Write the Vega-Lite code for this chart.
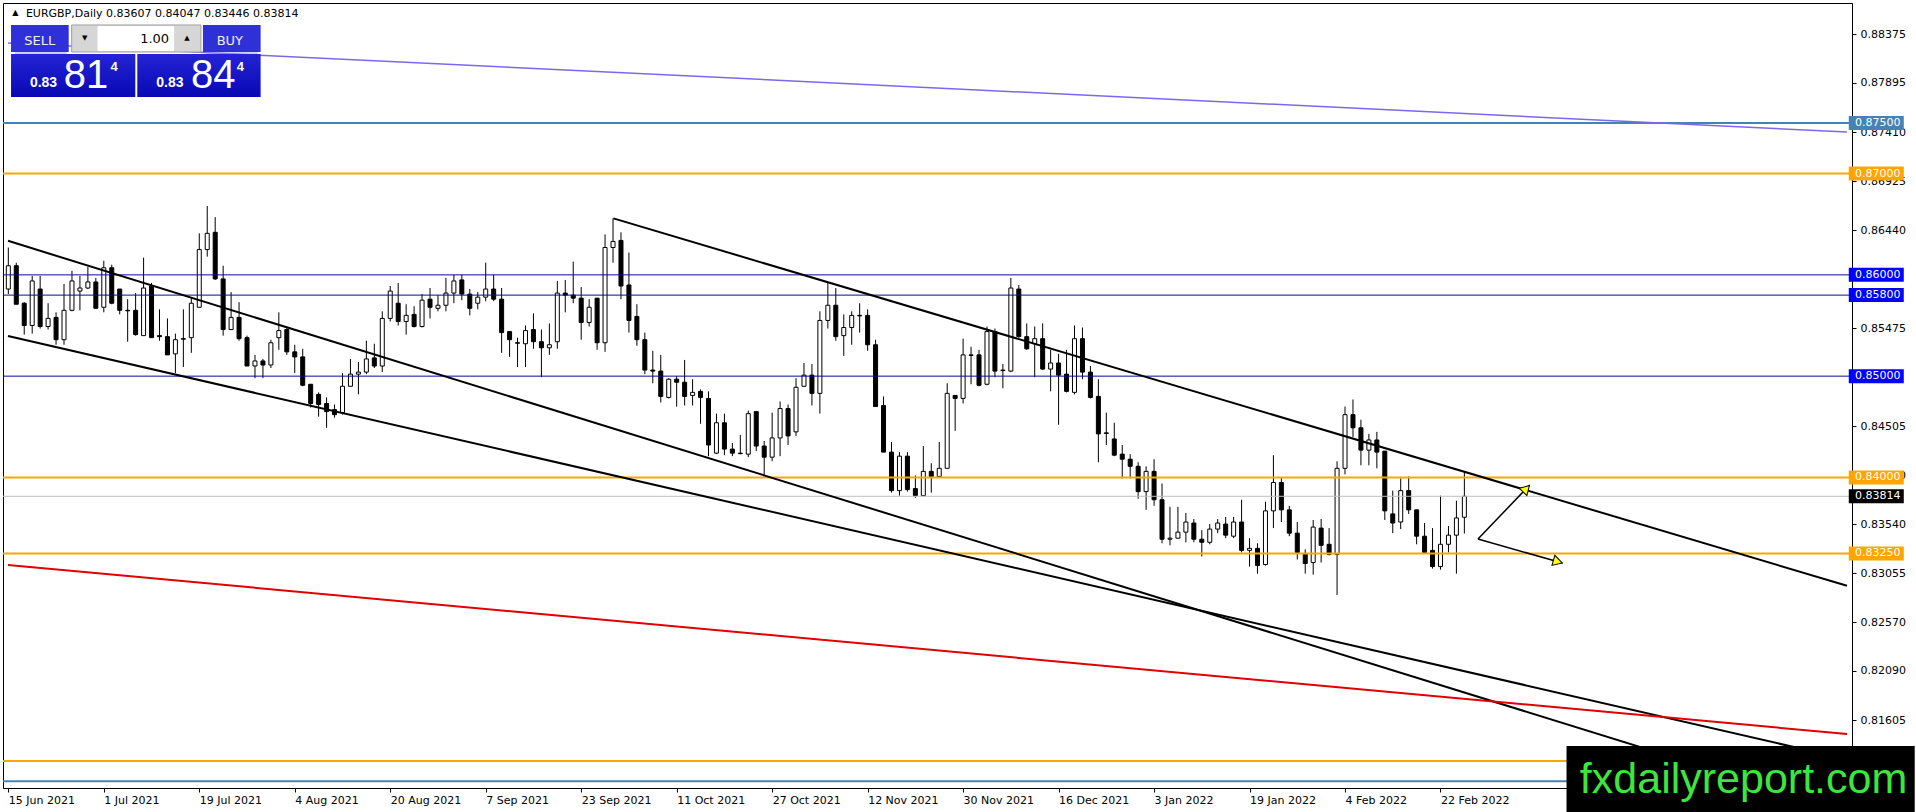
{
  "$schema": "https://vega.github.io/schema/vega-lite/v6.json",
  "width": 1849,
  "height": 785,
  "autosize": {"type": "none"},
  "padding": {"left": 3, "top": 3, "right": 64, "bottom": 24},
  "background": "white",
  "datasets": {
    "bars": [
      {"i":0,"o":0.8586,"h":0.8627,"l":0.8581,"c":0.8609},
      {"i":1,"o":0.8609,"h":0.8612,"l":0.8571,"c":0.8571},
      {"i":2,"o":0.8572,"h":0.8573,"l":0.8541,"c":0.855},
      {"i":3,"o":0.855,"h":0.8599,"l":0.8542,"c":0.8594},
      {"i":4,"o":0.8586,"h":0.8599,"l":0.8547,"c":0.8549},
      {"i":5,"o":0.8549,"h":0.8572,"l":0.8546,"c":0.8557},
      {"i":6,"o":0.8558,"h":0.8563,"l":0.8531,"c":0.8536},
      {"i":7,"o":0.8536,"h":0.8591,"l":0.8531,"c":0.8565},
      {"i":8,"o":0.8565,"h":0.8604,"l":0.8564,"c":0.8594},
      {"i":9,"o":0.8584,"h":0.8599,"l":0.8565,"c":0.8587},
      {"i":10,"o":0.8587,"h":0.8608,"l":0.8586,"c":0.8593},
      {"i":11,"o":0.8593,"h":0.8597,"l":0.8567,"c":0.8567},
      {"i":12,"o":0.8568,"h":0.8614,"l":0.8563,"c":0.8607},
      {"i":13,"o":0.8607,"h":0.861,"l":0.8571,"c":0.8572},
      {"i":14,"o":0.8586,"h":0.8586,"l":0.8561,"c":0.8565},
      {"i":15,"o":0.8565,"h":0.8576,"l":0.8534,"c":0.85645},
      {"i":16,"o":0.8565,"h":0.8582,"l":0.854,"c":0.8541},
      {"i":17,"o":0.854,"h":0.8617,"l":0.854,"c":0.8587},
      {"i":18,"o":0.8589,"h":0.8592,"l":0.8538,"c":0.8538},
      {"i":19,"o":0.854,"h":0.8566,"l":0.8535,"c":0.8539},
      {"i":20,"o":0.8539,"h":0.8557,"l":0.8521,"c":0.8521},
      {"i":21,"o":0.8522,"h":0.8542,"l":0.8503,"c":0.8536},
      {"i":22,"o":0.8537,"h":0.8566,"l":0.8509,"c":0.85365},
      {"i":23,"o":0.8538,"h":0.8577,"l":0.8523,"c":0.8572},
      {"i":24,"o":0.8568,"h":0.8641,"l":0.8568,"c":0.8625},
      {"i":25,"o":0.8625,"h":0.8668,"l":0.8618,"c":0.8641},
      {"i":26,"o":0.8642,"h":0.8657,"l":0.8595,"c":0.8596},
      {"i":27,"o":0.8596,"h":0.8609,"l":0.854,"c":0.8546},
      {"i":28,"o":0.8546,"h":0.8583,"l":0.8546,"c":0.8558},
      {"i":29,"o":0.8558,"h":0.8573,"l":0.8535,"c":0.8537},
      {"i":30,"o":0.8538,"h":0.854,"l":0.851,"c":0.851},
      {"i":31,"o":0.851,"h":0.8521,"l":0.8498,"c":0.8515},
      {"i":32,"o":0.8515,"h":0.8517,"l":0.8498,"c":0.8511},
      {"i":33,"o":0.8511,"h":0.8536,"l":0.8508,"c":0.8533},
      {"i":34,"o":0.8538,"h":0.8563,"l":0.8526,"c":0.8545},
      {"i":35,"o":0.8546,"h":0.8548,"l":0.8521,"c":0.8524},
      {"i":36,"o":0.8524,"h":0.8531,"l":0.8503,"c":0.8519},
      {"i":37,"o":0.8519,"h":0.8527,"l":0.849,"c":0.8491},
      {"i":38,"o":0.8492,"h":0.8492,"l":0.8469,"c":0.8473},
      {"i":39,"o":0.8482,"h":0.8484,"l":0.846,"c":0.8472},
      {"i":40,"o":0.8473,"h":0.8479,"l":0.8449,"c":0.8465},
      {"i":41,"o":0.8467,"h":0.8472,"l":0.8459,"c":0.8462},
      {"i":42,"o":0.8464,"h":0.8503,"l":0.8462,"c":0.849},
      {"i":43,"o":0.849,"h":0.8517,"l":0.849,"c":0.8502},
      {"i":44,"o":0.8502,"h":0.8514,"l":0.8482,"c":0.8504},
      {"i":45,"o":0.8504,"h":0.8535,"l":0.8502,"c":0.8517},
      {"i":46,"o":0.8518,"h":0.8532,"l":0.8508,"c":0.851},
      {"i":47,"o":0.851,"h":0.8564,"l":0.8504,"c":0.8557},
      {"i":48,"o":0.8557,"h":0.8589,"l":0.8554,"c":0.8584},
      {"i":49,"o":0.8572,"h":0.8592,"l":0.855,"c":0.8554},
      {"i":50,"o":0.8554,"h":0.8571,"l":0.8541,"c":0.856},
      {"i":51,"o":0.8561,"h":0.8569,"l":0.8548,"c":0.8549},
      {"i":52,"o":0.8549,"h":0.8581,"l":0.8548,"c":0.8575},
      {"i":53,"o":0.8576,"h":0.8587,"l":0.8557,"c":0.8568},
      {"i":54,"o":0.8567,"h":0.858,"l":0.8564,"c":0.857},
      {"i":55,"o":0.857,"h":0.8597,"l":0.8564,"c":0.8582},
      {"i":56,"o":0.8582,"h":0.86,"l":0.8572,"c":0.8594},
      {"i":57,"o":0.8595,"h":0.86,"l":0.8575,"c":0.8581},
      {"i":58,"o":0.8581,"h":0.8586,"l":0.856,"c":0.8567},
      {"i":59,"o":0.8572,"h":0.8583,"l":0.8566,"c":0.8578},
      {"i":60,"o":0.8578,"h":0.8612,"l":0.8574,"c":0.8586},
      {"i":61,"o":0.8586,"h":0.86,"l":0.8574,"c":0.8576},
      {"i":62,"o":0.8576,"h":0.8587,"l":0.8523,"c":0.8543},
      {"i":63,"o":0.8544,"h":0.8544,"l":0.8519,"c":0.8536},
      {"i":64,"o":0.8533,"h":0.8538,"l":0.8509,"c":0.85325},
      {"i":65,"o":0.8532,"h":0.855,"l":0.8509,"c":0.8545},
      {"i":66,"o":0.8546,"h":0.8562,"l":0.8527,"c":0.8534},
      {"i":67,"o":0.8534,"h":0.8546,"l":0.8499,"c":0.8528},
      {"i":68,"o":0.8528,"h":0.8552,"l":0.8521,"c":0.8531},
      {"i":69,"o":0.8534,"h":0.8594,"l":0.8527,"c":0.8582},
      {"i":70,"o":0.8582,"h":0.8595,"l":0.8563,"c":0.858},
      {"i":71,"o":0.858,"h":0.8613,"l":0.8572,"c":0.8577},
      {"i":72,"o":0.8577,"h":0.8588,"l":0.8536,"c":0.8553},
      {"i":73,"o":0.8553,"h":0.8576,"l":0.8549,"c":0.8568},
      {"i":74,"o":0.8577,"h":0.8577,"l":0.8526,"c":0.8533},
      {"i":75,"o":0.8533,"h":0.864,"l":0.8524,"c":0.8627},
      {"i":76,"o":0.8627,"h":0.8656,"l":0.8612,"c":0.8633},
      {"i":77,"o":0.8634,"h":0.8642,"l":0.8576,"c":0.8589},
      {"i":78,"o":0.859,"h":0.8622,"l":0.8543,"c":0.8555},
      {"i":79,"o":0.8559,"h":0.8571,"l":0.853,"c":0.8536},
      {"i":80,"o":0.8536,"h":0.8543,"l":0.8502,"c":0.8506},
      {"i":81,"o":0.8506,"h":0.8525,"l":0.8493,"c":0.8505},
      {"i":82,"o":0.8505,"h":0.8521,"l":0.8474,"c":0.848},
      {"i":83,"o":0.8479,"h":0.8498,"l":0.8478,"c":0.8497},
      {"i":84,"o":0.8497,"h":0.85,"l":0.847,"c":0.8494},
      {"i":85,"o":0.8494,"h":0.8516,"l":0.8471,"c":0.848},
      {"i":86,"o":0.8481,"h":0.8497,"l":0.8471,"c":0.8484},
      {"i":87,"o":0.8485,"h":0.8487,"l":0.8453,"c":0.8479},
      {"i":88,"o":0.8478,"h":0.8485,"l":0.8421,"c":0.8432},
      {"i":89,"o":0.8424,"h":0.8463,"l":0.8423,"c":0.8454},
      {"i":90,"o":0.8454,"h":0.8463,"l":0.8422,"c":0.8428},
      {"i":91,"o":0.8428,"h":0.8434,"l":0.8421,"c":0.8424},
      {"i":92,"o":0.8424,"h":0.8442,"l":0.8423,"c":0.84235},
      {"i":93,"o":0.8423,"h":0.8466,"l":0.842,"c":0.8463},
      {"i":94,"o":0.8465,"h":0.8465,"l":0.8426,"c":0.8431},
      {"i":95,"o":0.8431,"h":0.8436,"l":0.8402,"c":0.842},
      {"i":96,"o":0.842,"h":0.8464,"l":0.8416,"c":0.8439},
      {"i":97,"o":0.8439,"h":0.8475,"l":0.8421,"c":0.8468},
      {"i":98,"o":0.8468,"h":0.8472,"l":0.8432,"c":0.8441},
      {"i":99,"o":0.8445,"h":0.8498,"l":0.8441,"c":0.8489},
      {"i":100,"o":0.849,"h":0.8513,"l":0.849,"c":0.8501},
      {"i":101,"o":0.8501,"h":0.8512,"l":0.8471,"c":0.8483},
      {"i":102,"o":0.8483,"h":0.8564,"l":0.8463,"c":0.8555},
      {"i":103,"o":0.8555,"h":0.8592,"l":0.8547,"c":0.857},
      {"i":104,"o":0.857,"h":0.8587,"l":0.8535,"c":0.8539},
      {"i":105,"o":0.854,"h":0.8561,"l":0.852,"c":0.8548},
      {"i":106,"o":0.8548,"h":0.8564,"l":0.8531,"c":0.856},
      {"i":107,"o":0.856,"h":0.8572,"l":0.8543,"c":0.85595},
      {"i":108,"o":0.856,"h":0.8566,"l":0.8525,"c":0.8531},
      {"i":109,"o":0.8531,"h":0.8536,"l":0.847,"c":0.847},
      {"i":110,"o":0.8471,"h":0.848,"l":0.8425,"c":0.8425},
      {"i":111,"o":0.8425,"h":0.8435,"l":0.8385,"c":0.8387},
      {"i":112,"o":0.8387,"h":0.8425,"l":0.8382,"c":0.8421},
      {"i":113,"o":0.8421,"h":0.8425,"l":0.8386,"c":0.8388},
      {"i":114,"o":0.8389,"h":0.8402,"l":0.838,"c":0.8382},
      {"i":115,"o":0.8382,"h":0.8431,"l":0.8382,"c":0.8406},
      {"i":116,"o":0.8406,"h":0.8414,"l":0.8385,"c":0.8401},
      {"i":117,"o":0.8401,"h":0.8435,"l":0.84,"c":0.8409},
      {"i":118,"o":0.8409,"h":0.8493,"l":0.8409,"c":0.8483},
      {"i":119,"o":0.8481,"h":0.8481,"l":0.8446,"c":0.8478},
      {"i":120,"o":0.8478,"h":0.8537,"l":0.8473,"c":0.8521},
      {"i":121,"o":0.8521,"h":0.8529,"l":0.8492,"c":0.85205},
      {"i":122,"o":0.8521,"h":0.8526,"l":0.849,"c":0.8491},
      {"i":123,"o":0.8492,"h":0.8549,"l":0.8491,"c":0.8544},
      {"i":124,"o":0.8544,"h":0.8547,"l":0.8499,"c":0.8505},
      {"i":125,"o":0.8506,"h":0.8512,"l":0.8488,"c":0.85055},
      {"i":126,"o":0.8505,"h":0.8597,"l":0.8504,"c":0.8587},
      {"i":127,"o":0.8586,"h":0.859,"l":0.8538,"c":0.8539},
      {"i":128,"o":0.8539,"h":0.8552,"l":0.8526,"c":0.8527},
      {"i":129,"o":0.8532,"h":0.8549,"l":0.8499,"c":0.8537},
      {"i":130,"o":0.8537,"h":0.8552,"l":0.8506,"c":0.8507},
      {"i":131,"o":0.8507,"h":0.8526,"l":0.8485,"c":0.8513},
      {"i":132,"o":0.8513,"h":0.8522,"l":0.8452,"c":0.8501},
      {"i":133,"o":0.8502,"h":0.8526,"l":0.8484,"c":0.8485},
      {"i":134,"o":0.8484,"h":0.855,"l":0.8482,"c":0.8537},
      {"i":135,"o":0.8537,"h":0.8548,"l":0.8497,"c":0.8504},
      {"i":136,"o":0.8504,"h":0.851,"l":0.8478,"c":0.8479},
      {"i":137,"o":0.848,"h":0.8497,"l":0.8415,"c":0.8443},
      {"i":138,"o":0.8444,"h":0.8464,"l":0.8432,"c":0.84435},
      {"i":139,"o":0.8438,"h":0.8454,"l":0.8421,"c":0.8422},
      {"i":140,"o":0.8423,"h":0.8432,"l":0.8399,"c":0.8418},
      {"i":141,"o":0.8418,"h":0.8423,"l":0.8399,"c":0.8411},
      {"i":142,"o":0.8411,"h":0.8415,"l":0.8379,"c":0.8386},
      {"i":143,"o":0.8386,"h":0.8411,"l":0.8368,"c":0.8406},
      {"i":144,"o":0.8406,"h":0.8418,"l":0.8372,"c":0.8378},
      {"i":145,"o":0.8378,"h":0.8394,"l":0.8335,"c":0.8339},
      {"i":146,"o":0.8339,"h":0.8371,"l":0.8333,"c":0.834},
      {"i":147,"o":0.834,"h":0.8371,"l":0.834,"c":0.8346},
      {"i":148,"o":0.8346,"h":0.8365,"l":0.8336,"c":0.8356},
      {"i":149,"o":0.8355,"h":0.8359,"l":0.8336,"c":0.8339},
      {"i":150,"o":0.8339,"h":0.8348,"l":0.8322,"c":0.8336},
      {"i":151,"o":0.8336,"h":0.8354,"l":0.8334,"c":0.8349},
      {"i":152,"o":0.8349,"h":0.8359,"l":0.8345,"c":0.8355},
      {"i":153,"o":0.8354,"h":0.8361,"l":0.834,"c":0.8343},
      {"i":154,"o":0.8342,"h":0.8361,"l":0.834,"c":0.8356},
      {"i":155,"o":0.8356,"h":0.8378,"l":0.8326,"c":0.8328},
      {"i":156,"o":0.8328,"h":0.834,"l":0.8312,"c":0.833},
      {"i":157,"o":0.833,"h":0.8335,"l":0.8305,"c":0.8313},
      {"i":158,"o":0.8314,"h":0.8376,"l":0.8313,"c":0.8367},
      {"i":159,"o":0.8367,"h":0.8422,"l":0.835,"c":0.8395},
      {"i":160,"o":0.8395,"h":0.84,"l":0.8356,"c":0.8368},
      {"i":161,"o":0.8368,"h":0.8372,"l":0.8342,"c":0.8345},
      {"i":162,"o":0.8345,"h":0.8356,"l":0.8319,"c":0.8326},
      {"i":163,"o":0.8325,"h":0.8329,"l":0.8305,"c":0.8315},
      {"i":164,"o":0.8316,"h":0.8358,"l":0.8304,"c":0.8351},
      {"i":165,"o":0.835,"h":0.8359,"l":0.8316,"c":0.8333},
      {"i":166,"o":0.8334,"h":0.835,"l":0.8323,"c":0.8324},
      {"i":167,"o":0.8324,"h":0.8416,"l":0.8284,"c":0.8409},
      {"i":168,"o":0.8409,"h":0.847,"l":0.8403,"c":0.8462},
      {"i":169,"o":0.8462,"h":0.8477,"l":0.844,"c":0.8449},
      {"i":170,"o":0.8449,"h":0.8457,"l":0.8412,"c":0.8427},
      {"i":171,"o":0.8427,"h":0.8443,"l":0.8412,"c":0.8437},
      {"i":172,"o":0.8437,"h":0.8445,"l":0.8409,"c":0.8425},
      {"i":173,"o":0.8426,"h":0.8426,"l":0.8358,"c":0.8367},
      {"i":174,"o":0.8364,"h":0.8387,"l":0.8345,"c":0.8355},
      {"i":175,"o":0.8356,"h":0.8399,"l":0.8349,"c":0.8387},
      {"i":176,"o":0.8387,"h":0.8401,"l":0.8364,"c":0.8368},
      {"i":177,"o":0.8368,"h":0.8368,"l":0.8334,"c":0.8342},
      {"i":178,"o":0.8342,"h":0.8355,"l":0.8325,"c":0.8326},
      {"i":179,"o":0.8328,"h":0.835,"l":0.831,"c":0.8312},
      {"i":180,"o":0.8312,"h":0.8382,"l":0.8309,"c":0.8334},
      {"i":181,"o":0.8334,"h":0.8352,"l":0.8326,"c":0.8343},
      {"i":182,"o":0.8343,"h":0.8377,"l":0.8305,"c":0.836},
      {"i":183,"o":0.83607,"h":0.84047,"l":0.83446,"c":0.83814}
    ],
    "levels": [
      {"p":0.875,"k":"steel"},
      {"p":0.87,"k":"orange"},
      {"p":0.86,"k":"navy"},
      {"p":0.858,"k":"navy"},
      {"p":0.85,"k":"navy"},
      {"p":0.84,"k":"orange"},
      {"p":0.83814,"k":"bid"},
      {"p":0.8325,"k":"orange"},
      {"p":0.812,"k":"orange"},
      {"p":0.81,"k":"steel"}
    ],
    "tags": [
      {"p":0.875,"k":"steel"},
      {"p":0.87,"k":"orange"},
      {"p":0.86,"k":"blue"},
      {"p":0.858,"k":"blue"},
      {"p":0.85,"k":"blue"},
      {"p":0.84,"k":"orange"},
      {"p":0.83814,"k":"bid"},
      {"p":0.8325,"k":"orange"}
    ],
    "trend": [
      {"n":"channel_top","i":-0.04,"p":0.86336,"i2":221.7,"p2":0.80934},
      {"n":"channel_bottom","i":-0.04,"p":0.85396,"i2":231.09,"p2":0.81218},
      {"n":"resistance","i":76.05,"p":0.86558,"i2":231.09,"p2":0.82931},
      {"n":"red","i":-0.04,"p":0.83135,"i2":231.09,"p2":0.81467},
      {"n":"purple","i":-0.04,"p":0.88289,"i2":231.09,"p2":0.8741},
      {"n":"arrow","i":184.71,"p":0.83392,"i2":191.21,"p2":0.83925},
      {"n":"arrow","i":184.71,"p":0.83392,"i2":195.33,"p2":0.83155}
    ]
  },
  "resolve": {"axis": {"x": "independent", "y": "independent"}},
  "layer": [
    {
      "data": {"name": "bars"},
      "mark": {"type": "rule", "color": "black", "strokeWidth": 1},
      "encoding": {
        "x": {
          "field": "i", "type": "quantitative", "title": null,
          "scale": {"domain": [-0.04, 231.09], "nice": false, "zero": false},
          "axis": {
            "values": [0, 12, 24, 36, 48, 60, 72, 84, 96, 108, 120, 132, 144, 156, 168, 180],
            "labelExpr": "['15 Jun 2021','1 Jul 2021','19 Jul 2021','4 Aug 2021','20 Aug 2021','7 Sep 2021','23 Sep 2021','11 Oct 2021','27 Oct 2021','12 Nov 2021','30 Nov 2021','16 Dec 2021','3 Jan 2022','19 Jan 2022','4 Feb 2022','22 Feb 2022'][round(datum.value / 12)]",
            "labelAlign": "left", "labelBaseline": "top", "labelPadding": 2,
            "labelFont": "DejaVu Sans", "labelFontSize": 11, "labelColor": "black",
            "labelOverlap": false, "labelFlush": false, "labelBound": false,
            "tickSize": 4, "tickColor": "black", "domainColor": "black", "grid": false
          }
        },
        "y": {
          "field": "l", "type": "quantitative", "title": null,
          "scale": {"domain": [0.80934, 0.88684], "nice": false, "zero": false},
          "axis": {
            "orient": "right",
            "values": [0.81605, 0.8209, 0.8257, 0.83055, 0.8354, 0.8402, 0.84505, 0.85475, 0.8644, 0.86925, 0.8741, 0.87895, 0.88375],
            "format": ".5f",
            "labelFont": "DejaVu Sans", "labelFontSize": 11, "labelColor": "black",
            "labelPadding": 4, "labelOverlap": false, "labelFlush": false, "labelBound": false,
            "tickSize": 4, "tickColor": "black", "domainColor": "black", "grid": false
          }
        },
        "y2": {"field": "h"}
      }
    },
    {
      "data": {"name": "bars"},
      "mark": {"type": "bar", "size": 4, "stroke": "black", "strokeWidth": 1},
      "encoding": {
        "x": {"field": "i", "type": "quantitative", "axis": null, "scale": {"domain": [-0.04, 231.09], "nice": false, "zero": false}},
        "y": {"field": "o", "type": "quantitative", "axis": null, "scale": {"domain": [0.80934, 0.88684], "nice": false, "zero": false}},
        "y2": {"field": "c"},
        "fill": {"condition": {"test": "datum.c >= datum.o", "value": "white"}, "value": "black"}
      }
    },
    {
      "data": {"name": "levels"},
      "mark": {"type": "rule"},
      "encoding": {
        "y": {"field": "p", "type": "quantitative", "axis": null, "scale": {"domain": [0.80934, 0.88684], "nice": false, "zero": false}},
        "stroke": {
          "condition": [
            {"test": "datum.k === 'orange'", "value": "#ffa500"},
            {"test": "datum.k === 'steel'", "value": "#4682b4"},
            {"test": "datum.k === 'bid'", "value": "#c0c0c0"}
          ],
          "value": "#0a0a9c"
        },
        "strokeWidth": {
          "condition": [
            {"test": "datum.k === 'orange'", "value": 2},
            {"test": "datum.k === 'steel'", "value": 2}
          ],
          "value": 1
        }
      }
    },
    {
      "data": {"name": "trend"},
      "mark": {"type": "rule", "strokeCap": "butt"},
      "encoding": {
        "x": {"field": "i", "type": "quantitative", "axis": null, "scale": {"domain": [-0.04, 231.09], "nice": false, "zero": false}},
        "y": {"field": "p", "type": "quantitative", "axis": null, "scale": {"domain": [0.80934, 0.88684], "nice": false, "zero": false}},
        "x2": {"field": "i2"},
        "y2": {"field": "p2"},
        "stroke": {
          "condition": [
            {"test": "datum.n === 'red'", "value": "#e00000"},
            {"test": "datum.n === 'purple'", "value": "#7b68ee"}
          ],
          "value": "black"
        },
        "strokeWidth": {
          "condition": [
            {"test": "datum.n === 'purple'", "value": 1.5},
            {"test": "datum.n === 'arrow'", "value": 1.5}
          ],
          "value": 2
        }
      }
    },
    {
      "data": {"values": [{}]},
      "mark": {"type": "point", "shape": "triangle-right", "filled": true, "fill": "#ffff00", "stroke": "black", "strokeWidth": 1, "size": 110, "angle": 314, "opacity": 1},
      "encoding": {
        "x": {"datum": 190.78, "type": "quantitative", "axis": null, "scale": {"domain": [-0.04, 231.09], "nice": false, "zero": false}},
        "y": {"datum": 0.83889, "type": "quantitative", "axis": null, "scale": {"domain": [0.80934, 0.88684], "nice": false, "zero": false}}
      }
    },
    {
      "data": {"values": [{}]},
      "mark": {"type": "point", "shape": "triangle-right", "filled": true, "fill": "#ffff00", "stroke": "black", "strokeWidth": 1, "size": 110, "angle": 16, "opacity": 1},
      "encoding": {
        "x": {"datum": 194.74, "type": "quantitative", "axis": null, "scale": {"domain": [-0.04, 231.09], "nice": false, "zero": false}},
        "y": {"datum": 0.83169, "type": "quantitative", "axis": null, "scale": {"domain": [0.80934, 0.88684], "nice": false, "zero": false}}
      }
    },
    {
      "data": {"name": "tags"},
      "mark": {"type": "rect", "width": 55, "height": 14},
      "encoding": {
        "x": {"datum": 234.77, "type": "quantitative", "axis": null, "scale": {"domain": [-0.04, 231.09], "nice": false, "zero": false}},
        "y": {"field": "p", "type": "quantitative", "axis": null, "scale": {"domain": [0.80934, 0.88684], "nice": false, "zero": false}},
        "fill": {
          "condition": [
            {"test": "datum.k === 'orange'", "value": "#ffa500"},
            {"test": "datum.k === 'steel'", "value": "#4682b4"},
            {"test": "datum.k === 'bid'", "value": "black"}
          ],
          "value": "#0000ff"
        }
      }
    },
    {
      "data": {"name": "tags"},
      "mark": {"type": "text", "align": "left", "baseline": "middle", "font": "DejaVu Sans", "fontSize": 11, "fill": "white"},
      "encoding": {
        "x": {"datum": 232.09, "type": "quantitative", "axis": null, "scale": {"domain": [-0.04, 231.09], "nice": false, "zero": false}},
        "y": {"field": "p", "type": "quantitative", "axis": null, "scale": {"domain": [0.80934, 0.88684], "nice": false, "zero": false}},
        "text": {"field": "p", "type": "quantitative", "format": ".5f"}
      }
    },
    {
      "data": {"values": [{}]},
      "mark": {"type": "rect", "fill": "#3030d8"},
      "encoding": {
        "x": {"datum": 0.34, "type": "quantitative", "axis": null, "scale": {"domain": [-0.04, 231.09], "nice": false, "zero": false}},
        "x2": {"datum": 7.59},
        "y": {"datum": 0.88467, "type": "quantitative", "axis": null, "scale": {"domain": [0.80934, 0.88684], "nice": false, "zero": false}},
        "y2": {"datum": 0.882}
      }
    },
    {
      "data": {"values": [{}]},
      "mark": {"type": "rect", "fill": "#3030d8"},
      "encoding": {
        "x": {"datum": 24.46, "type": "quantitative", "axis": null, "scale": {"domain": [-0.04, 231.09], "nice": false, "zero": false}},
        "x2": {"datum": 31.71},
        "y": {"datum": 0.88467, "type": "quantitative", "axis": null, "scale": {"domain": [0.80934, 0.88684], "nice": false, "zero": false}},
        "y2": {"datum": 0.882}
      }
    },
    {
      "data": {"values": [{}]},
      "mark": {"type": "rect", "fill": "#d6d6d6", "stroke": "#a0a0a0", "strokeWidth": 1},
      "encoding": {
        "x": {"datum": 7.96, "type": "quantitative", "axis": null, "scale": {"domain": [-0.04, 231.09], "nice": false, "zero": false}},
        "x2": {"datum": 24.21},
        "y": {"datum": 0.88467, "type": "quantitative", "axis": null, "scale": {"domain": [0.80934, 0.88684], "nice": false, "zero": false}},
        "y2": {"datum": 0.882}
      }
    },
    {
      "data": {"values": [{}]},
      "mark": {"type": "rect", "fill": "white"},
      "encoding": {
        "x": {"datum": 11.21, "type": "quantitative", "axis": null, "scale": {"domain": [-0.04, 231.09], "nice": false, "zero": false}},
        "x2": {"datum": 20.84},
        "y": {"datum": 0.88457, "type": "quantitative", "axis": null, "scale": {"domain": [0.80934, 0.88684], "nice": false, "zero": false}},
        "y2": {"datum": 0.8821}
      }
    },
    {
      "data": {"values": [{}]},
      "mark": {"type": "rect", "fill": {"gradient": "linear", "x1": 0, "y1": 0, "x2": 0, "y2": 1, "stops": [{"offset": 0, "color": "#2424d6"}, {"offset": 1, "color": "#0808b4"}]}},
      "encoding": {
        "x": {"datum": 0.34, "type": "quantitative", "axis": null, "scale": {"domain": [-0.04, 231.09], "nice": false, "zero": false}},
        "x2": {"datum": 15.96},
        "y": {"datum": 0.8818, "type": "quantitative", "axis": null, "scale": {"domain": [0.80934, 0.88684], "nice": false, "zero": false}},
        "y2": {"datum": 0.87756}
      }
    },
    {
      "data": {"values": [{}]},
      "mark": {"type": "rect", "fill": {"gradient": "linear", "x1": 0, "y1": 0, "x2": 0, "y2": 1, "stops": [{"offset": 0, "color": "#2424d6"}, {"offset": 1, "color": "#0808b4"}]}},
      "encoding": {
        "x": {"datum": 16.21, "type": "quantitative", "axis": null, "scale": {"domain": [-0.04, 231.09], "nice": false, "zero": false}},
        "x2": {"datum": 31.71},
        "y": {"datum": 0.8818, "type": "quantitative", "axis": null, "scale": {"domain": [0.80934, 0.88684], "nice": false, "zero": false}},
        "y2": {"datum": 0.87756}
      }
    },
    {
      "data": {"values": [{}]},
      "mark": {"type": "rule", "stroke": "#9c9cf0", "strokeWidth": 1},
      "encoding": {
        "x": {"datum": 0.84, "type": "quantitative", "axis": null, "scale": {"domain": [-0.04, 231.09], "nice": false, "zero": false}},
        "x2": {"datum": 7.34},
        "y": {"datum": 0.8819, "type": "quantitative", "axis": null, "scale": {"domain": [0.80934, 0.88684], "nice": false, "zero": false}}
      }
    },
    {
      "data": {"values": [{}]},
      "mark": {"type": "rule", "stroke": "#9c9cf0", "strokeWidth": 1},
      "encoding": {
        "x": {"datum": 24.84, "type": "quantitative", "axis": null, "scale": {"domain": [-0.04, 231.09], "nice": false, "zero": false}},
        "x2": {"datum": 31.34},
        "y": {"datum": 0.8819, "type": "quantitative", "axis": null, "scale": {"domain": [0.80934, 0.88684], "nice": false, "zero": false}}
      }
    },
    {
      "data": {"values": [{}]},
      "mark": {"type": "text", "text": "SELL", "align": "center", "baseline": "alphabetic", "font": "DejaVu Sans", "fontSize": 13, "fill": "#f0f0ff"},
      "encoding": {
        "x": {"datum": 3.96, "type": "quantitative", "axis": null, "scale": {"domain": [-0.04, 231.09], "nice": false, "zero": false}},
        "y": {"datum": 0.88269, "type": "quantitative", "axis": null, "scale": {"domain": [0.80934, 0.88684], "nice": false, "zero": false}}
      }
    },
    {
      "data": {"values": [{}]},
      "mark": {"type": "text", "text": "BUY", "align": "center", "baseline": "alphabetic", "font": "DejaVu Sans", "fontSize": 13, "fill": "#f0f0ff"},
      "encoding": {
        "x": {"datum": 27.84, "type": "quantitative", "axis": null, "scale": {"domain": [-0.04, 231.09], "nice": false, "zero": false}},
        "y": {"datum": 0.88269, "type": "quantitative", "axis": null, "scale": {"domain": [0.80934, 0.88684], "nice": false, "zero": false}}
      }
    },
    {
      "data": {"values": [{}]},
      "mark": {"type": "text", "text": "1.00", "align": "right", "baseline": "alphabetic", "font": "DejaVu Sans", "fontSize": 13, "fill": "black"},
      "encoding": {
        "x": {"datum": 20.21, "type": "quantitative", "axis": null, "scale": {"domain": [-0.04, 231.09], "nice": false, "zero": false}},
        "y": {"datum": 0.88289, "type": "quantitative", "axis": null, "scale": {"domain": [0.80934, 0.88684], "nice": false, "zero": false}}
      }
    },
    {
      "data": {"values": [{}]},
      "mark": {"type": "text", "text": "▼", "align": "center", "baseline": "middle", "font": "DejaVu Sans", "fontSize": 7, "fill": "black"},
      "encoding": {
        "x": {"datum": 9.59, "type": "quantitative", "axis": null, "scale": {"domain": [-0.04, 231.09], "nice": false, "zero": false}},
        "y": {"datum": 0.88338, "type": "quantitative", "axis": null, "scale": {"domain": [0.80934, 0.88684], "nice": false, "zero": false}}
      }
    },
    {
      "data": {"values": [{}]},
      "mark": {"type": "text", "text": "▲", "align": "center", "baseline": "middle", "font": "DejaVu Sans", "fontSize": 7, "fill": "black"},
      "encoding": {
        "x": {"datum": 22.46, "type": "quantitative", "axis": null, "scale": {"domain": [-0.04, 231.09], "nice": false, "zero": false}},
        "y": {"datum": 0.88338, "type": "quantitative", "axis": null, "scale": {"domain": [0.80934, 0.88684], "nice": false, "zero": false}}
      }
    },
    {
      "data": {"values": [{}]},
      "mark": {"type": "text", "text": "0.83", "align": "left", "baseline": "alphabetic", "font": "Liberation Sans", "fontWeight": "bold", "fontSize": 14, "fill": "white"},
      "encoding": {
        "x": {"datum": 2.71, "type": "quantitative", "axis": null, "scale": {"domain": [-0.04, 231.09], "nice": false, "zero": false}},
        "y": {"datum": 0.87855, "type": "quantitative", "axis": null, "scale": {"domain": [0.80934, 0.88684], "nice": false, "zero": false}}
      }
    },
    {
      "data": {"values": [{}]},
      "mark": {"type": "text", "text": "81", "align": "left", "baseline": "alphabetic", "font": "Liberation Sans", "fontSize": 40, "fill": "white"},
      "encoding": {
        "x": {"datum": 6.96, "type": "quantitative", "axis": null, "scale": {"domain": [-0.04, 231.09], "nice": false, "zero": false}},
        "y": {"datum": 0.87845, "type": "quantitative", "axis": null, "scale": {"domain": [0.80934, 0.88684], "nice": false, "zero": false}}
      }
    },
    {
      "data": {"values": [{}]},
      "mark": {"type": "text", "text": "4", "align": "left", "baseline": "alphabetic", "font": "Liberation Sans", "fontWeight": "bold", "fontSize": 13, "fill": "white"},
      "encoding": {
        "x": {"datum": 12.84, "type": "quantitative", "axis": null, "scale": {"domain": [-0.04, 231.09], "nice": false, "zero": false}},
        "y": {"datum": 0.88013, "type": "quantitative", "axis": null, "scale": {"domain": [0.80934, 0.88684], "nice": false, "zero": false}}
      }
    },
    {
      "data": {"values": [{}]},
      "mark": {"type": "text", "text": "0.83", "align": "left", "baseline": "alphabetic", "font": "Liberation Sans", "fontWeight": "bold", "fontSize": 14, "fill": "white"},
      "encoding": {
        "x": {"datum": 18.59, "type": "quantitative", "axis": null, "scale": {"domain": [-0.04, 231.09], "nice": false, "zero": false}},
        "y": {"datum": 0.87855, "type": "quantitative", "axis": null, "scale": {"domain": [0.80934, 0.88684], "nice": false, "zero": false}}
      }
    },
    {
      "data": {"values": [{}]},
      "mark": {"type": "text", "text": "84", "align": "left", "baseline": "alphabetic", "font": "Liberation Sans", "fontSize": 40, "fill": "white"},
      "encoding": {
        "x": {"datum": 22.96, "type": "quantitative", "axis": null, "scale": {"domain": [-0.04, 231.09], "nice": false, "zero": false}},
        "y": {"datum": 0.87845, "type": "quantitative", "axis": null, "scale": {"domain": [0.80934, 0.88684], "nice": false, "zero": false}}
      }
    },
    {
      "data": {"values": [{}]},
      "mark": {"type": "text", "text": "4", "align": "left", "baseline": "alphabetic", "font": "Liberation Sans", "fontWeight": "bold", "fontSize": 13, "fill": "white"},
      "encoding": {
        "x": {"datum": 28.71, "type": "quantitative", "axis": null, "scale": {"domain": [-0.04, 231.09], "nice": false, "zero": false}},
        "y": {"datum": 0.88013, "type": "quantitative", "axis": null, "scale": {"domain": [0.80934, 0.88684], "nice": false, "zero": false}}
      }
    },
    {
      "data": {"values": [{}]},
      "mark": {"type": "text", "text": "▲", "align": "center", "baseline": "middle", "font": "DejaVu Sans", "fontSize": 8, "fill": "black"},
      "encoding": {
        "x": {"datum": 0.87, "type": "quantitative", "axis": null, "scale": {"domain": [-0.04, 231.09], "nice": false, "zero": false}},
        "y": {"datum": 0.88588, "type": "quantitative", "axis": null, "scale": {"domain": [0.80934, 0.88684], "nice": false, "zero": false}}
      }
    },
    {
      "data": {"values": [{}]},
      "mark": {"type": "text", "text": "EURGBP,Daily  0.83607 0.84047 0.83446 0.83814", "align": "left", "baseline": "alphabetic", "font": "DejaVu Sans", "fontSize": 11, "fill": "black"},
      "encoding": {
        "x": {"datum": 2.21, "type": "quantitative", "axis": null, "scale": {"domain": [-0.04, 231.09], "nice": false, "zero": false}},
        "y": {"datum": 0.88541, "type": "quantitative", "axis": null, "scale": {"domain": [0.80934, 0.88684], "nice": false, "zero": false}}
      }
    },
    {
      "data": {"values": [{}]},
      "mark": {"type": "rect", "fill": "black"},
      "encoding": {
        "x": {"datum": 195.84, "type": "quantitative", "axis": null, "scale": {"domain": [-0.04, 231.09], "nice": false, "zero": false}},
        "x2": {"datum": 239.6},
        "y": {"datum": 0.81348, "type": "quantitative", "axis": null, "scale": {"domain": [0.80934, 0.88684], "nice": false, "zero": false}},
        "y2": {"datum": 0.80667}
      }
    },
    {
      "data": {"values": [{}]},
      "mark": {"type": "text", "text": "fxdailyreport.com", "align": "center", "baseline": "alphabetic", "font": "Liberation Sans", "fontSize": 43, "fill": "#3ce63c"},
      "encoding": {
        "x": {"datum": 218.09, "type": "quantitative", "axis": null, "scale": {"domain": [-0.04, 231.09], "nice": false, "zero": false}},
        "y": {"datum": 0.80884, "type": "quantitative", "axis": null, "scale": {"domain": [0.80934, 0.88684], "nice": false, "zero": false}}
      }
    }
  ],
  "config": {
    "view": {"stroke": "black", "strokeWidth": 1},
    "font": "DejaVu Sans"
  }
}
